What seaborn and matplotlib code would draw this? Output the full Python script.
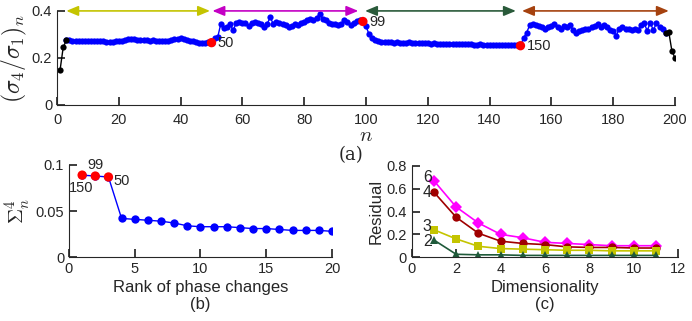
import numpy as np
import pandas as pd
import seaborn as sns
import matplotlib
matplotlib.use("Agg")
import matplotlib.pyplot as plt

# -----------------------------------
# Data
# -----------------------------------
# (a) ratio sigma_4 / sigma_1 for n = 1..200
ratio = [
    0.150, 0.245, 0.275, 0.275, 0.274, 0.273, 0.272, 0.271, 0.272, 0.271,
    0.271, 0.272, 0.273, 0.272, 0.270, 0.268, 0.267, 0.268, 0.270, 0.271,
    0.274, 0.278, 0.280, 0.281, 0.279, 0.276, 0.278, 0.277, 0.275, 0.274,
    0.275, 0.274, 0.272, 0.271, 0.272, 0.274, 0.276, 0.279, 0.282, 0.283,
    0.279, 0.276, 0.273, 0.270, 0.267, 0.265, 0.264, 0.265, 0.266, 0.265,
    0.285, 0.288, 0.345, 0.328, 0.330, 0.343, 0.318, 0.348, 0.352, 0.350,
    0.350, 0.335, 0.348, 0.352, 0.348, 0.345, 0.330, 0.345, 0.372, 0.345,
    0.352, 0.350, 0.345, 0.340, 0.333, 0.335, 0.345, 0.340, 0.348, 0.352,
    0.360, 0.365, 0.362, 0.370, 0.387, 0.365, 0.362, 0.350, 0.345, 0.345,
    0.340, 0.345, 0.362, 0.352, 0.340, 0.350, 0.355, 0.360, 0.355, 0.335,
    0.300, 0.285, 0.275, 0.270, 0.268, 0.268, 0.266, 0.266, 0.265, 0.266,
    0.265, 0.264, 0.265, 0.266, 0.264, 0.263, 0.263, 0.264, 0.262, 0.262,
    0.261, 0.262, 0.261, 0.260, 0.260, 0.261, 0.260, 0.259, 0.259, 0.260,
    0.259, 0.258, 0.258, 0.259, 0.257, 0.257, 0.258, 0.256, 0.256, 0.257,
    0.255, 0.256, 0.255, 0.254, 0.255, 0.256, 0.254, 0.255, 0.256, 0.252,
    0.285, 0.308, 0.340, 0.345, 0.338, 0.335, 0.330, 0.325, 0.330, 0.335,
    0.345, 0.330, 0.325, 0.335, 0.330, 0.338, 0.318, 0.308, 0.315, 0.318,
    0.322, 0.325, 0.330, 0.335, 0.345, 0.330, 0.338, 0.330, 0.320, 0.315,
    0.295, 0.325, 0.330, 0.325, 0.322, 0.320, 0.325, 0.318, 0.340, 0.350,
    0.315, 0.350, 0.318, 0.348, 0.330, 0.325, 0.305, 0.310, 0.230, 0.200,
]
phase_points = [50, 99, 150]
phase_colors = ["#c4c400", "#c400c4", "#2a5a3a", "#a5420f"]
phase_bounds = [(3, 49.5), (50.3, 97.5), (99.7, 148.5), (150.5, 198)]

# (b) sorted phase-change scores
rank = list(range(1, 21))
sigma_rank = [0.089, 0.088, 0.087, 0.042, 0.041, 0.040, 0.039, 0.037, 0.034, 0.033,
              0.033, 0.033, 0.032, 0.031, 0.031, 0.030, 0.029, 0.029, 0.029, 0.028]
rank_labels = ["150", "99", "50"]

# (c) residual vs dimensionality
dims = list(range(1, 12))
res_6 = [0.67, 0.44, 0.30, 0.20, 0.17, 0.13, 0.12, 0.11, 0.10, 0.10, 0.10]
res_4 = [0.57, 0.35, 0.21, 0.14, 0.12, 0.11, 0.09, 0.085, 0.085, 0.08, 0.08]
res_3 = [0.24, 0.16, 0.095, 0.075, 0.07, 0.065, 0.06, 0.06, 0.055, 0.055, 0.055]
res_2 = [0.15, 0.025, 0.02, 0.02, 0.015, 0.015, 0.015, 0.015, 0.015, 0.015, 0.015]

sns.set_theme(style="ticks")
plt.rcParams["font.family"] = ["Liberation Sans", "DejaVu Sans"]
plt.rcParams["mathtext.fontset"] = "cm"
plt.rcParams["xtick.direction"] = "in"
plt.rcParams["ytick.direction"] = "in"
plt.rcParams["xtick.labelsize"] = 10.5
plt.rcParams["ytick.labelsize"] = 10.5
plt.rcParams["axes.linewidth"] = 0.8

fig = plt.figure(figsize=(6.92, 3.21), dpi=100)
ax_a = fig.add_axes([0.0824, 0.673, 0.893, 0.293])
ax_b = fig.add_axes([0.0997, 0.199, 0.380, 0.287])
ax_c = fig.add_axes([0.595, 0.199, 0.385, 0.284])

# -----------------------------------
# (a)
# -----------------------------------
df_a = pd.DataFrame({"n": np.arange(1, 201), "r": ratio})
blue = df_a[(df_a.n >= 3) & (df_a.n <= 197)]
black1 = df_a[df_a.n <= 3]
black2 = df_a[df_a.n >= 197]
sns.lineplot(data=blue, x="n", y="r", ax=ax_a, color="#0000ff", marker="o",
             markersize=4.5, markeredgewidth=0, linewidth=1)
for seg in (black1, black2):
    sns.lineplot(data=seg, x="n", y="r", ax=ax_a, color="black", marker="o",
                 markersize=4.5, markeredgewidth=0, linewidth=1)
red = df_a[df_a.n.isin(phase_points)]
sns.scatterplot(data=red, x="n", y="r", ax=ax_a, color="#ff0000", s=45,
                edgecolor="none", zorder=5)
for _, row in red.iterrows():
    ax_a.text(row.n + 2, row.r - 0.003, str(int(row.n)), fontsize=10.5, va="center")

for (x0, x1), c in zip(phase_bounds, phase_colors):
    ax_a.annotate("", xy=(x0, 0.4), xytext=(x1, 0.4),
                  arrowprops=dict(arrowstyle="<|-|>,head_length=0.6,head_width=0.25",
                                  color=c, lw=1.2, shrinkA=0, shrinkB=0),
                  annotation_clip=False)

ax_a.set_xlim(0, 200)
ax_a.set_ylim(0, 0.4)
ax_a.set_xticks(range(0, 201, 20))
ax_a.set_yticks([0, 0.2, 0.4])
ax_a.set_yticklabels(["0", "0.2", "0.4"])
ax_a.tick_params(axis="x", pad=6)
ax_a.set_xlabel(r"$n$", fontsize=15, labelpad=-1)
ax_a.set_ylabel(r"$(\sigma_4/\sigma_1)_n$", fontsize=17, labelpad=2)
sns.despine(ax=ax_a)
fig.text(0.507, 0.518, "(a)", fontsize=13, ha="center", va="center",
         family="DejaVu Serif")

# -----------------------------------
# (b)
# -----------------------------------
df_b = pd.DataFrame({"rank": rank, "s": sigma_rank})
sns.lineplot(data=df_b, x="rank", y="s", ax=ax_b, color="#0000ff", marker="o",
             markersize=6, markeredgewidth=0, linewidth=1)
sns.scatterplot(data=df_b.iloc[:3], x="rank", y="s", ax=ax_b, color="#ff0000",
                s=45, edgecolor="none", zorder=5)
ax_b.text(rank[0] - 0.1, sigma_rank[0] - 0.006, rank_labels[0], fontsize=10.5,
          ha="center", va="top")
ax_b.text(rank[1], sigma_rank[1] + 0.004, rank_labels[1], fontsize=10.5,
          ha="center", va="bottom")
ax_b.text(rank[2] + 0.4, sigma_rank[2] - 0.004, rank_labels[2], fontsize=10.5,
          ha="left", va="center")
ax_b.set_xlim(0, 20)
ax_b.set_ylim(0, 0.1)
ax_b.set_xticks([0, 5, 10, 15, 20])
ax_b.set_yticks([0, 0.05, 0.1])
ax_b.set_yticklabels(["0", "0.05", "0.1"])
ax_b.set_xlabel("Rank of phase changes", fontsize=12, labelpad=3)
ax_b.set_ylabel(r"$\Sigma^4_n$", fontsize=15, labelpad=2)
sns.despine(ax=ax_b)
fig.text(0.289, 0.05, "(b)", fontsize=12, ha="center", va="center")

# -----------------------------------
# (c)
# -----------------------------------
series = [
    (res_6, "#ff00ff", "D", "6"),
    (res_4, "#a00000", "o", "4"),
    (res_3, "#c4c400", "s", "3"),
    (res_2, "#1f5a3a", "^", "2"),
]
for vals, c, m, lab in series:
    sns.lineplot(x=dims, y=vals, ax=ax_c, color=c, marker=m, markersize=6,
                 markeredgewidth=0, linewidth=1.2)
label_y = {"6": 0.70, "4": 0.565, "3": 0.265, "2": 0.138}
for lab, yv in label_y.items():
    ax_c.text(0.9, yv, lab, fontsize=11.5, ha="right", va="center")
ax_c.set_xlim(0, 12)
ax_c.set_ylim(0, 0.8)
ax_c.set_xticks(range(0, 13, 2))
ax_c.set_yticks([0, 0.2, 0.4, 0.6, 0.8])
ax_c.set_yticklabels(["0", "0.2", "0.4", "0.6", "0.8"])
ax_c.set_xlabel("Dimensionality", fontsize=12, labelpad=3)
ax_c.set_ylabel("Residual", fontsize=12, labelpad=2)
sns.despine(ax=ax_c)
fig.text(0.788, 0.05, "(c)", fontsize=12, ha="center", va="center")

fig.savefig("out.png", dpi=100)
